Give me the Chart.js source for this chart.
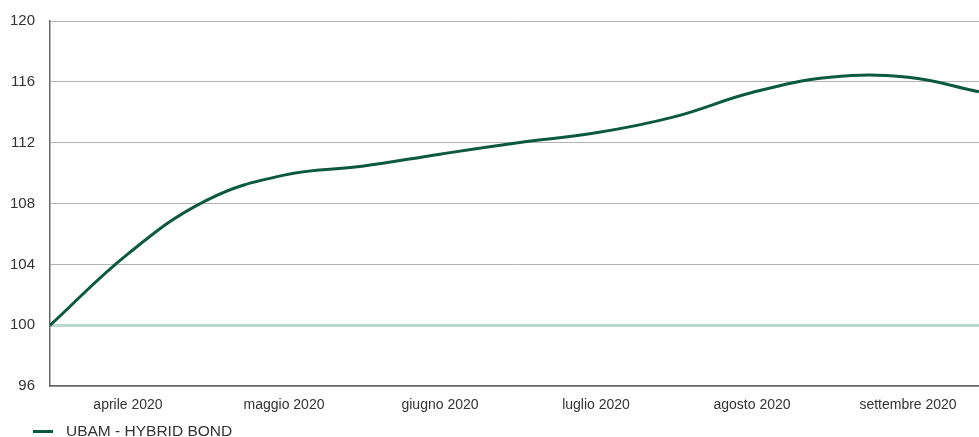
<!DOCTYPE html>
<html lang="it">
<head>
    <meta charset="UTF-8">
    <title>UBAM - HYBRID BOND</title>
    <script src="https://cdn.jsdelivr.net/npm/chart.js"></script>
    <style>
        html, body {
            margin: 0;
            padding: 0;
            background: #fff;
        }
        #wrap {
            position: relative;
            width: 979px;
            height: 437px;
        }
        #legend {
            position: absolute;
            left: 33px;
            top: 422px;
            font-family: 'Liberation Sans', Arial, sans-serif;
            font-size: 15.5px;
            color: #333;
            display: flex;
            align-items: center;
        }
        #legend .swatch {
            display: inline-block;
            width: 20px;
            height: 3px;
            background: #0b5a3e;
            margin-right: 13px;
        }
    </style>
</head>
<body>
    <div id="wrap">
        <canvas id="chart" width="979" height="437"></canvas>
        <div id="legend"><span class="swatch"></span><span id="legendText"></span></div>
    </div>

    <script>
        // etichette dei mesi (centrate in ogni mese)
        const months = ['aprile 2020', 'maggio 2020', 'giugno 2020', 'luglio 2020', 'agosto 2020', 'settembre 2020'];
        // posizione in mesi dall'inizio del periodo (ogni mezzo mese)
        const xPos = [0, 0.5, 1, 1.5, 2, 2.5, 3, 3.5, 4, 4.5, 5, 5.5, 5.955];
        // valore del fondo (base 100)
        const values = [100, 104.7, 108.2, 109.87, 110.45, 111.25, 112.0, 112.65, 113.7, 115.3, 116.3, 116.3, 115.35];
        const seriesName = 'UBAM - HYBRID BOND';
        const yTicks = [96, 100, 104, 108, 112, 116, 120];

        document.getElementById('legendText').textContent = seriesName;

        const points = xPos.map((x, i) => ({ x: x, y: values[i] }));
        const font = { family: "'Liberation Sans', Arial, sans-serif", size: 14 };

        new Chart(document.getElementById('chart'), {
            type: 'line',
            data: {
                datasets: [{
                    label: seriesName,
                    data: points,
                    borderColor: '#0b5a3e',
                    borderWidth: 3,
                    pointRadius: 0,
                    tension: 0.4,
                    fill: false
                }]
            },
            options: {
                responsive: false,
                animation: false,
                layout: { padding: { top: 21, right: 0, bottom: 12, left: 0 } },
                plugins: {
                    legend: { display: false },
                    tooltip: { enabled: false }
                },
                scales: {
                    x: {
                        type: 'linear',
                        min: 0,
                        max: 5.955,
                        afterBuildTicks: (scale) => {
                            scale.ticks = months.map((m, i) => ({ value: i + 0.5 }));
                        },
                        ticks: {
                            autoSkip: false,
                            maxRotation: 0,
                            padding: 11,
                            color: '#333',
                            font: font,
                            callback: (v, i) => months[i]
                        },
                        grid: { display: false, drawTicks: false },
                        border: { display: true, color: '#666', width: 1.5 }
                    },
                    y: {
                        min: 96,
                        max: 120,
                        afterBuildTicks: (scale) => {
                            scale.ticks = yTicks.map(v => ({ value: v }));
                        },
                        afterFit: (scale) => {
                            scale.width = 50;
                            scale.paddingTop = 0;
                            scale.paddingBottom = 0;
                        },
                        ticks: {
                            padding: 15,
                            color: '#333',
                            font: { family: font.family, size: 15 }
                        },
                        grid: {
                            drawTicks: false,
                            color: (c) => c.tick && c.tick.value === 100 ? '#b9d9cd' : '#b3b3b3',
                            lineWidth: (c) => c.tick && c.tick.value === 100 ? 3 : 1
                        },
                        border: { display: true, color: '#666', width: 1.5 }
                    }
                }
            }
        });
    </script>
</body>
</html>
